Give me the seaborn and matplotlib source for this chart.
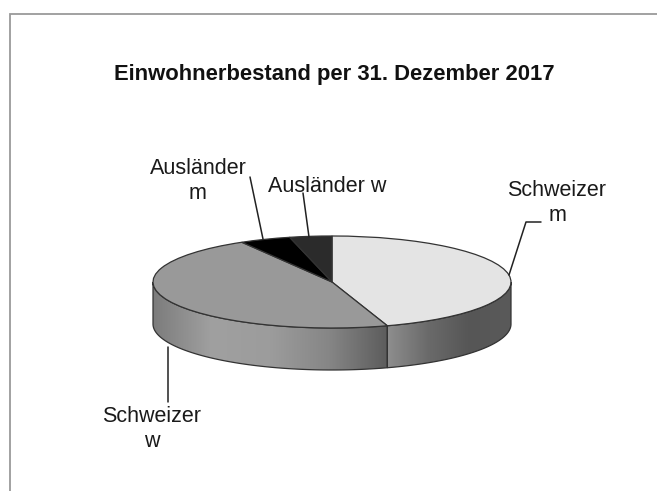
import numpy as np
import matplotlib
matplotlib.use("Agg")
import matplotlib.pyplot as plt
from matplotlib.patches import Polygon
import seaborn as sns

# Werte aus dem Bild geschaetzt (Anteile in %)
categories = ["Schweizer m", "Schweizer w", "Ausländer m", "Ausländer w"]
shares = [45.0, 46.6, 4.6, 3.8]
top_colors = ["#e4e4e4", "#999999", "#000000", "#2b2b2b"]
title = "Einwohnerbestand per 31. Dezember 2017"

W, H = 657, 491
CX, CY, RX, RY = 332, 282, 179, 46
SIDE = 42
DEPTH = SIDE / RY
EDGE = "#333333"

sns.set_theme(style="white")
plt.rcParams["font.family"] = ["Liberation Sans", "DejaVu Sans"]

fig = plt.figure(figsize=(W / 100, H / 100), dpi=100, facecolor="white")

# Overlay in Pixelkoordinaten fuer Rahmen, Text, Fuehrungslinien
bg = fig.add_axes([0, 0, 1, 1], zorder=2)
bg.set_xlim(0, W)
bg.set_ylim(H, 0)
bg.axis("off")
bg.patch.set_alpha(0)

bg.plot([10, 10, W], [H, 14, 14], color="#9a9a9a", lw=1.3, solid_joinstyle="miter")
bg.text(334, 74, title, ha="center", va="center", fontsize=15.8, fontweight="bold", color="#111111")

leaders = [
    ([509, 526, 541], [275, 222, 222]),
    ([250, 263], [177, 239]),
    ([303, 309], [193, 237]),
    ([168, 168], [347, 402]),
]
for xs, ys in leaders:
    bg.plot(xs, ys, color="#222222", lw=1.1)

label_pos = [(557, 203), (152, 429), (198, 181), (327, 186)]
label_text = ["Schweizer\nm", "Schweizer\nw", "Ausländer\nm", "Ausländer w"]
for (x, y), txt in zip(label_pos, label_text):
    bg.text(x, y, txt, ha="center", va="center", fontsize=15.5, color="#1a1a1a", linespacing=1.3)

# Kuchen: Achse ueber Ellipse plus Seitenwand legen
ax = fig.add_axes([(CX - RX) / W, 1 - (CY + RY + SIDE) / H, 2 * RX / W, (2 * RY + SIDE) / H], zorder=1)
wedges, _ = ax.pie(shares, colors=top_colors, startangle=90, counterclock=False, radius=1,
                   wedgeprops={"edgecolor": EDGE, "linewidth": 0.9, "zorder": 5})
ax.set_aspect("auto")
for w in wedges:
    w.set_clip_on(False)

# Seitenwand: sichtbarer vorderer Teil der ersten beiden Segmente
bounds = 90 - np.cumsum([0] + shares) * 3.6
side_stops = {
    0: ["#8e8e8e", "#6a6a6a", "#565656", "#5a5a5a"],
    1: ["#7c7c7c", "#a0a0a0", "#9c9c9c", "#868686", "#5c5c5c"],
}
side_angles = {0: (bounds[1], 0), 1: (-180, bounds[1])}
for i, stops in side_stops.items():
    a0, a1 = side_angles[i]
    t = np.radians(np.linspace(a0, a1, 100))
    x, y = np.cos(t), np.sin(t)
    pts = np.r_[np.c_[x, y], np.c_[x[::-1], y[::-1] - DEPTH]]
    cmap = sns.blend_palette(stops, as_cmap=True)
    poly = Polygon(pts, closed=True, facecolor="none", edgecolor=EDGE, lw=0.9, zorder=3, clip_on=False)
    ax.add_patch(poly)
    grad = ax.imshow(np.linspace(0, 1, 256).reshape(1, -1), extent=(x.min(), x.max(), -1 - DEPTH, 1),
                     aspect="auto", cmap=cmap, zorder=2)
    grad.set_clip_path(poly)
ax.set_xlim(-1, 1)
ax.set_ylim(-1 - DEPTH, 1)

fig.savefig("out.png", dpi=100)
